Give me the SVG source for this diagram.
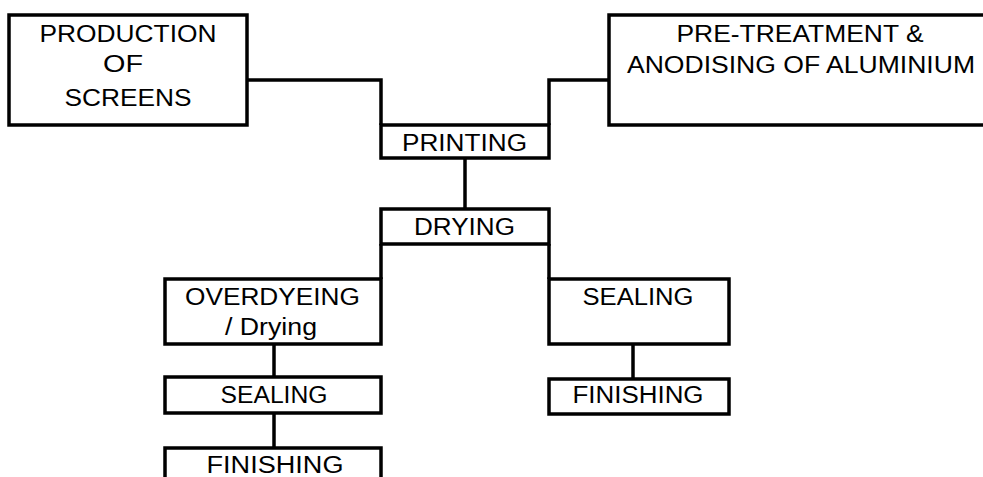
<svg xmlns="http://www.w3.org/2000/svg" width="983" height="477" viewBox="0 0 983 477">
<style>
.box{fill:#fff;stroke:#000;stroke-width:3.5}
.con{fill:none;stroke:#000;stroke-width:3.5}
text{font-family:"Liberation Sans",Arial,sans-serif;font-size:23px;fill:#000;text-anchor:middle}
</style>
<rect width="983" height="477" fill="#fff"/>
<g id="connectors">
<path class="con" d="M247,80 H381 V125"/>
<path class="con" d="M609,80 H549 V125"/>
<path class="con" d="M465,158 V209"/>
<path class="con" d="M381,244 V279"/>
<path class="con" d="M549,244 V279"/>
<path class="con" d="M274,344 V377"/>
<path class="con" d="M274,413 V448"/>
<path class="con" d="M633,344 V379"/>
</g>
<g id="production">
<rect class="box" x="9" y="15" width="238" height="110"/>
<text x="128" y="42" textLength="177" lengthAdjust="spacingAndGlyphs">PRODUCTION</text>
<text x="123" y="72" textLength="40" lengthAdjust="spacingAndGlyphs">OF</text>
<text x="128" y="106" textLength="127" lengthAdjust="spacingAndGlyphs">SCREENS</text>
</g>
<g id="pretreatment">
<rect class="box" x="609" y="15" width="400" height="110"/>
<text x="800" y="42" textLength="247" lengthAdjust="spacingAndGlyphs">PRE-TREATMENT &amp;</text>
<text x="801" y="73" textLength="348" lengthAdjust="spacingAndGlyphs">ANODISING OF ALUMINIUM</text>
</g>
<g id="printing">
<rect class="box" x="381" y="125" width="168" height="33"/>
<text x="464.5" y="151" textLength="125" lengthAdjust="spacingAndGlyphs">PRINTING</text>
</g>
<g id="drying">
<rect class="box" x="381" y="209" width="168" height="35"/>
<text x="464.5" y="235" textLength="101" lengthAdjust="spacingAndGlyphs">DRYING</text>
</g>
<g id="overdyeing">
<rect class="box" x="165" y="279" width="216" height="65"/>
<text x="272.5" y="305" textLength="175" lengthAdjust="spacingAndGlyphs">OVERDYEING</text>
<text x="271" y="335" textLength="92" lengthAdjust="spacingAndGlyphs">/ Drying</text>
</g>
<g id="sealing-left">
<rect class="box" x="165" y="377" width="216" height="36"/>
<text x="274" y="403" textLength="107" lengthAdjust="spacingAndGlyphs">SEALING</text>
</g>
<g id="finishing-left">
<rect class="box" x="165" y="448" width="216" height="40"/>
<text x="275" y="473" textLength="137" lengthAdjust="spacingAndGlyphs">FINISHING</text>
</g>
<g id="sealing-right">
<rect class="box" x="549" y="279" width="180" height="65"/>
<text x="638" y="305" textLength="111" lengthAdjust="spacingAndGlyphs">SEALING</text>
</g>
<g id="finishing-right">
<rect class="box" x="549" y="379" width="180" height="35"/>
<text x="638" y="403" textLength="131" lengthAdjust="spacingAndGlyphs">FINISHING</text>
</g>
</svg>
